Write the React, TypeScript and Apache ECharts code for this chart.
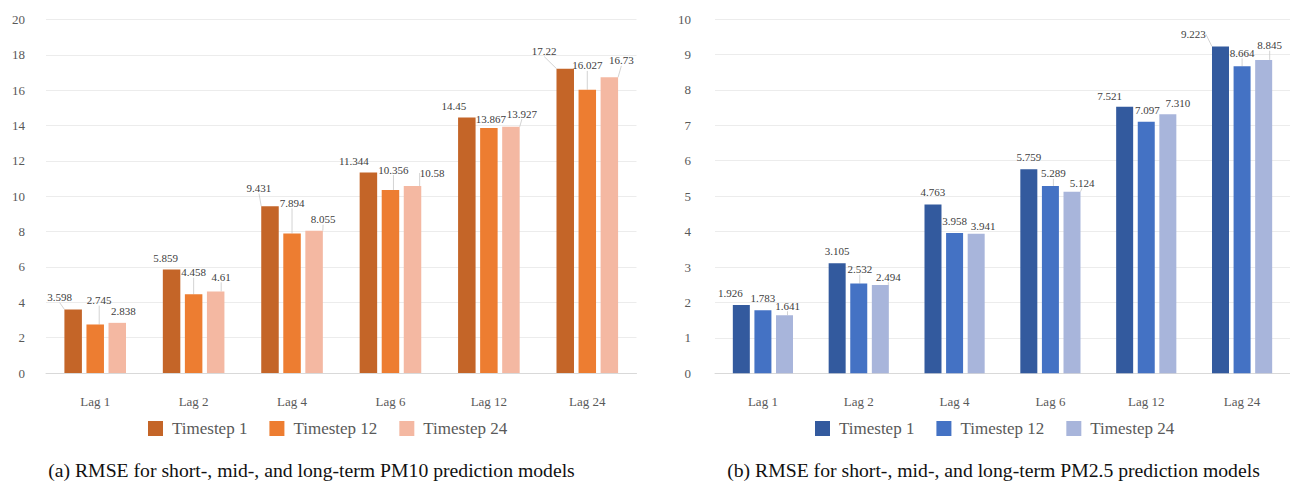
import React, { useEffect, useRef } from "react";
import * as echarts from "echarts";

const categories = ["Lag 1", "Lag 2", "Lag 4", "Lag 6", "Lag 12", "Lag 24"];
const seriesNames = ["Timestep 1", "Timestep 12", "Timestep 24"];

const pm10Step1 = [3.598, 5.859, 9.431, 11.344, 14.45, 17.22];
const pm10Step12 = [2.745, 4.458, 7.894, 10.356, 13.867, 16.027];
const pm10Step24 = [2.838, 4.61, 8.055, 10.58, 13.927, 16.73];

const pm25Step1 = [1.926, 3.105, 4.763, 5.759, 7.521, 9.223];
const pm25Step12 = [1.783, 2.532, 3.958, 5.289, 7.097, 8.664];
const pm25Step24 = [1.641, 2.494, 3.941, 5.124, 7.31, 8.845];

const pm10Axis = { min: 0, max: 20, interval: 2 };
const pm25Axis = { min: 0, max: 10, interval: 1 };

const captionA = "(a) RMSE for short-, mid-, and long-term PM10 prediction models";
const captionB = "(b) RMSE for short-, mid-, and long-term PM2.5 prediction models";

// label placement (styling): [dx, px above bar top, show leader line]
const pm10LabelPlace = [
  [[-13.5, 12.3, 1], [-6, 11.3, 0], [-11, 18.3, 1], [-14.5, 11.5, 0], [-13, 11.2, 0], [-21, 17.5, 1]],
  [[4, 24.4, 1], [0, 22, 1], [0, 30.6, 1], [3, 20.4, 1], [2, 9.3, 0], [0, 24.3, 1]],
  [[6, 11.8, 0], [5.5, 14.7, 1], [9, 11.4, 1], [19.5, 13, 1], [11, 13.2, 1], [12, 16.9, 1]],
];
const pm25LabelPlace = [
  [[-11, 11.7, 0], [0, 12.3, 0], [0, 12.1, 0], [0, 12.4, 0], [-15, 10.7, 0], [-27, 12.3, 1]],
  [[0, 11.8, 0], [1, 14.5, 1], [0, 12, 0], [3, 12.5, 1], [1, 11.7, 0], [0, 13.5, 1]],
  [[3, 9.4, 1], [8, 8.2, 1], [7, 7.6, 0], [10, 9, 1], [10, 11.5, 0], [6, 14.7, 1]],
];

const SERIF = "Liberation Serif";

type PanelCfg = {
  values: number[][];
  colors: string[];
  axis: { min: number; max: number; interval: number };
  place: number[][][];
  fmt: (v: number) => string;
  grid: any;
  yMargin: number;
  barWidth: number;
  barGap: string;
  legendLeft: number;
  caption: string;
  captionX: number;
};

function buildOption(c: PanelCfg) {
  return {
    animation: false,
    textStyle: { fontFamily: SERIF },
    grid: c.grid,
    xAxis: {
      type: "category",
      data: categories,
      axisLine: { lineStyle: { color: "#D9D9D9", width: 1 } },
      axisTick: { show: false },
      axisLabel: { color: "#595959", fontSize: 13, margin: 22, fontFamily: SERIF },
    },
    yAxis: {
      type: "value",
      min: c.axis.min,
      max: c.axis.max,
      interval: c.axis.interval,
      axisLine: { show: false },
      axisTick: { show: false },
      axisLabel: { color: "#595959", fontSize: 13, margin: c.yMargin, fontFamily: SERIF },
      splitLine: { lineStyle: { color: "#ECECEC", width: 1 } },
    },
    legend: {
      left: c.legendLeft,
      top: 420,
      padding: 0,
      icon: "rect",
      itemWidth: 15,
      itemHeight: 15,
      itemGap: 22,
      data: seriesNames,
      textStyle: { fontSize: 17, color: "#595959", fontFamily: SERIF, padding: [0, 0, 0, 4] },
    },
    graphic: [
      {
        type: "text",
        x: c.captionX,
        y: 470,
        style: {
          text: c.caption,
          fontSize: 19.7,
          fontFamily: SERIF,
          fill: "#111",
          textAlign: "center",
          textVerticalAlign: "middle",
        },
      },
    ],
    series: c.values.map((vals, si) => ({
      type: "bar",
      name: seriesNames[si],
      barWidth: c.barWidth,
      barGap: c.barGap,
      itemStyle: { color: c.colors[si] },
      data: vals.map((v, di) => ({
        value: v,
        labelLine: { show: !!c.place[si][di][2] },
      })),
      label: {
        show: true,
        position: "top",
        distance: 5,
        fontSize: 11,
        color: "#404040",
        fontFamily: SERIF,
        formatter: (p: any) => c.fmt(p.value),
      },
      labelLine: {
        show: false,
        length2: 0,
        lineStyle: { color: "#C8C8C8", width: 0.8 },
      },
      labelLayout: (p: any) => {
        const pl = c.place[si][p.dataIndex];
        return { dx: pl[0], dy: 10.5 - pl[1] };
      },
    })),
  };
}

function Panel({ cfg, style }: { cfg: PanelCfg; style: React.CSSProperties }) {
  const ref = useRef<HTMLDivElement>(null);
  useEffect(() => {
    if (!ref.current) return;
    const chart = echarts.init(ref.current, undefined, { renderer: "svg" });
    chart.setOption(buildOption(cfg) as any);
    return () => chart.dispose();
  }, []);
  return <div ref={ref} style={style} />;
}

const leftCfg: PanelCfg = {
  values: [pm10Step1, pm10Step12, pm10Step24],
  colors: ["#C46528", "#ED7D31", "#F4B8A2"],
  axis: pm10Axis,
  place: pm10LabelPlace,
  fmt: (v) => String(v),
  grid: { left: 46, top: 19.5, width: 590.5, height: 353.5 },
  yMargin: 21,
  barWidth: 17.5,
  barGap: "26%",
  legendLeft: 148,
  caption: captionA,
  captionX: 311.5,
};

const rightCfg: PanelCfg = {
  values: [pm25Step1, pm25Step12, pm25Step24],
  colors: ["#335A9E", "#4472C4", "#A8B5DB"],
  axis: pm25Axis,
  place: pm25LabelPlace,
  fmt: (v) => v.toFixed(3),
  grid: { left: 55, top: 19, width: 584, height: 354.3 },
  yMargin: 24,
  barWidth: 17,
  barGap: "27%",
  legendLeft: 155,
  caption: captionB,
  captionX: 333.5,
};

export default function App() {
  return (
    <div style={{ position: "absolute", left: 0, top: 0, width: 1290, height: 481, background: "#fff", overflow: "hidden" }}>
      <Panel cfg={leftCfg} style={{ position: "absolute", left: 0, top: 0, width: 660, height: 481 }} />
      <Panel cfg={rightCfg} style={{ position: "absolute", left: 660, top: 0, width: 630, height: 481 }} />
    </div>
  );
}
